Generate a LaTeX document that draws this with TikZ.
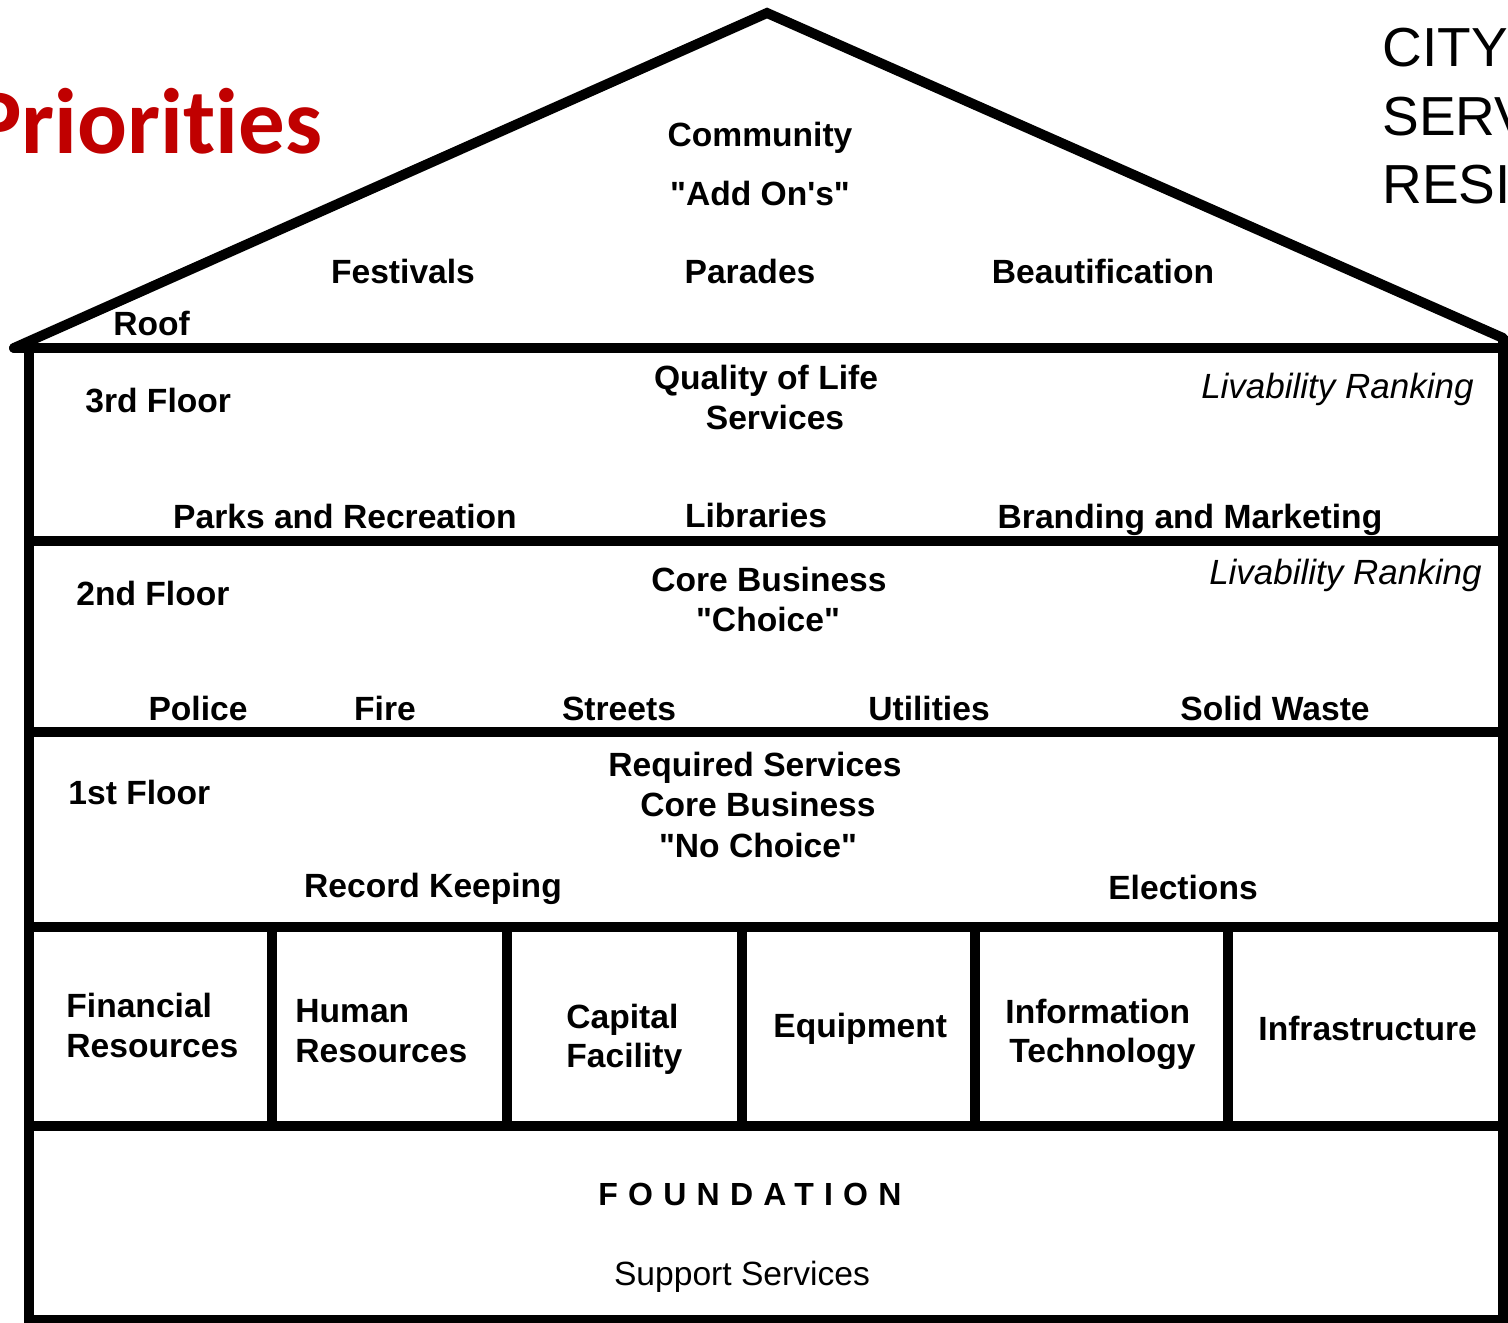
\documentclass[tikz,border=0pt]{standalone}
\usepackage{fontspec}
\setmainfont{Liberation Sans}
\newfontfamily\calfont[Ligatures=NoCommon]{Carlito}
\definecolor{prired}{RGB}{192,0,0}
\tikzset{
  wall/.style={line width=5pt},
  lbl/.style={inner sep=0pt, font=\fontsize{16.8pt}{20pt}\selectfont\bfseries, anchor=base},
  lblw/.style={lbl, anchor=base west},
  ital/.style={inner sep=0pt, font=\fontsize{17.5pt}{21pt}\selectfont\itshape, anchor=base east},
  big/.style={inner sep=0pt, font=\fontsize{27.5pt}{33pt}\selectfont, anchor=base west},
}
\newcommand\dq{\textquotedbl}
\begin{document}
\begin{tikzpicture}[x=0.5pt,y=-0.5pt]
\useasboundingbox (0,0) rectangle (1508,1322);
\clip (0,0) rectangle (1508,1322);
\fill[white] (0,0) rectangle (1508,1322);

% roof
\draw[wall, line cap=round, line join=miter] (14,348) -- (767,13) -- (1503,338);
% eaves and walls
\draw[wall, line cap=round] (14,348) -- (1503,348);
\draw[wall] (29,348) -- (29,1330);
\draw[wall] (1503,336) -- (1503,1330);
% floors
\foreach \yy in {540.5,731.5,926.5,1125.5,1320} \draw[wall] (29,\yy) -- (1503,\yy);
% resource dividers
\foreach \xx in {272,507,741.5,975,1228} \draw[wall] (\xx,926.5) -- (\xx,1125.5);

% headings outside
\node[inner sep=0pt, anchor=base east, text=prired, font=\fontsize{46.5pt}{50pt}\selectfont\calfont\bfseries] (prio) at (323,153) {Priorities};
\node[big] (city) at (1382,67) {CITY};
\node[big] (serv) at (1382,135) {SERV};
\node[big] (resi) at (1382,203) {RESI};

% roof
\node[lbl] (community) at (760,146) {Community};
\node[lbl] (addons) at (760,205) {\dq Add On\textquotesingle s\dq};
\node[lbl] (festivals) at (403,283) {Festivals};
\node[lbl] (parades) at (750,283) {Parades};
\node[lbl] (beaut) at (1103,283) {Beautification};
\node[lblw] (roof) at (113,335) {Roof};

% 3rd floor
\node[lblw] (third) at (85,412) {3rd Floor};
\node[lbl] (qol) at (766,389) {Quality of Life};
\node[lbl] (qols) at (775,429) {Services};
\node[ital] (liv3) at (1474,398) {Livability Ranking};
\node[lbl] (parks) at (345,528) {Parks and Recreation};
\node[lbl] (libs) at (756,527) {Libraries};
\node[lbl] (brand) at (1190,528) {Branding and Marketing};

% 2nd floor
\node[lblw] (second) at (76,605) {2nd Floor};
\node[lbl] (core2) at (769,591) {Core Business};
\node[lbl] (choice) at (768,631) {\dq Choice\dq};
\node[ital] (liv2) at (1482,584) {Livability Ranking};
\node[lbl] (police) at (198,720) {Police};
\node[lbl] (fire) at (385,720) {Fire};
\node[lbl] (streets) at (619,720) {Streets};
\node[lbl] (util) at (929,720) {Utilities};
\node[lbl] (solid) at (1275,720) {Solid Waste};

% 1st floor
\node[lblw] (first) at (68,804) {1st Floor};
\node[lbl] (req) at (755,776) {Required Services};
\node[lbl] (core1) at (758,816) {Core Business};
\node[lbl] (nochoice) at (758,857) {\dq No Choice\dq};
\node[lbl] (record) at (433,897) {Record Keeping};
\node[lbl] (elect) at (1183,899) {Elections};

% resources
\node[lblw] (fin1) at (66,1017) {Financial};
\node[lblw] (fin2) at (66,1057) {Resources};
\node[lblw] (hum1) at (295,1022) {Human};
\node[lblw] (hum2) at (295,1062) {Resources};
\node[lblw] (cap1) at (566,1028) {Capital};
\node[lblw] (cap2) at (566,1067) {Facility};
\node[lblw] (equip) at (773,1037) {Equipment};
\node[lblw] (info1) at (1005,1023) {Information};
\node[lblw] (info2) at (1009,1062) {Technology};
\node[lblw] (infra) at (1258,1040) {Infrastructure};

% foundation
\node[inner sep=0pt, anchor=base west, font=\fontsize{16pt}{20pt}\selectfont\bfseries\addfontfeatures{LetterSpace=32}] (found) at (598,1205) {FOUNDATION};
\node[inner sep=0pt, anchor=base, font=\fontsize{16.8pt}{20pt}\selectfont] (support) at (742,1285) {Support Services};
\end{tikzpicture}
\end{document}
